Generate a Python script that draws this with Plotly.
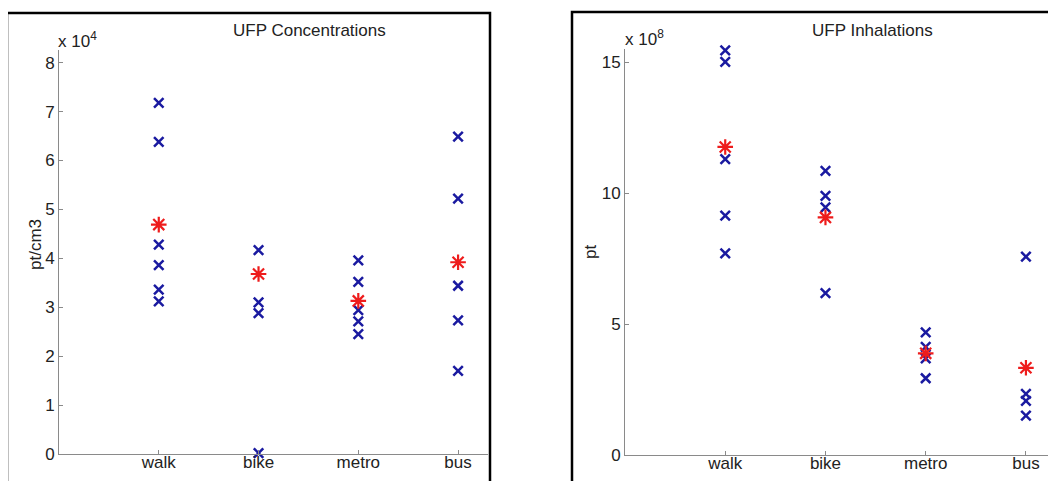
import plotly.graph_objects as go

# page has an 8 px body margin: the figure starts at (8, 8) in the screenshot
OFF = 8
W, H = 1056 - OFF, 481 - OFF

modes = ["walk", "bike", "metro", "bus"]

# Left panel: UFP concentrations (x 10^4 pt/cm3)
conc_walk = [7.18, 6.38, 4.28, 3.86, 3.36, 3.12]
conc_bike = [4.17, 3.10, 2.88, 0.02]
conc_metro = [3.96, 3.52, 2.94, 2.71, 2.45]
conc_bus = [6.49, 5.22, 3.44, 2.73, 1.70]
conc_mean = [4.69, 3.68, 3.13, 3.92]

# Right panel: UFP inhalations (x 10^8 pt)
inh_walk = [15.45, 15.01, 11.30, 9.14, 7.70]
inh_bike = [10.85, 9.89, 9.45, 6.18]
inh_metro = [4.68, 4.13, 3.69, 2.93]
inh_bus = [7.57, 2.33, 2.07, 1.50]
inh_mean = [11.76, 9.07, 3.88, 3.33]

conc_ticks = [0, 1, 2, 3, 4, 5, 6, 7, 8]
inh_ticks = [0, 5, 10, 15]

BLUE = "#1a1aa0"
RED = "#ee1c1c"
GRAY = "#8a8a8a"
FONT = "Liberation Sans, Arial, sans-serif"
FS = 17
TXT_COLOR = "#222222"

fig = go.Figure()


def add_panel(groups, means, xa, ya):
    for i, vals in enumerate(groups):
        fig.add_trace(go.Scatter(
            x=[i + 1] * len(vals), y=vals, mode="markers",
            marker=dict(symbol="x-thin-open", size=9.5, color=BLUE,
                        line=dict(color=BLUE, width=2.5)),
            xaxis=xa, yaxis=ya, showlegend=False, cliponaxis=False))
    fig.add_trace(go.Scatter(
        x=list(range(1, len(means) + 1)), y=means, mode="markers",
        marker=dict(symbol="asterisk-open", size=13, color=RED,
                    line=dict(color=RED, width=2.2)),
        xaxis=xa, yaxis=ya, showlegend=False, cliponaxis=False))


add_panel([conc_walk, conc_bike, conc_metro, conc_bus], conc_mean, "x", "y")
add_panel([inh_walk, inh_bike, inh_metro, inh_bus], inh_mean, "x2", "y2")


def px(x):
    return (x - OFF) / W


def py(y):
    return 1 - (y - OFF) / H


axis_common = dict(showgrid=False, zeroline=False, showline=True,
                   linecolor=GRAY, linewidth=1, ticks="inside", ticklen=4,
                   tickcolor=GRAY, tickwidth=1, automargin=False,
                   tickfont=dict(family=FONT, size=FS, color=TXT_COLOR))

fig.update_layout(
    width=W, height=H,
    margin=dict(l=0, r=0, t=0, b=0),
    paper_bgcolor="white", plot_bgcolor="white",
    xaxis=dict(domain=[px(59), px(488)], range=[0, 4.3], ticklabelstandoff=-7,
               tickvals=[1, 2, 3, 4], ticktext=modes, anchor="y", **axis_common),
    yaxis=dict(domain=[py(454), py(50)], range=[0, 8.26],
               tickvals=conc_ticks, anchor="x", **axis_common),
    xaxis2=dict(domain=[px(625), 1.0], range=[0, 4.3], ticklabelstandoff=-7,
                tickvals=[1, 2, 3, 4], ticktext=modes, anchor="y2", **axis_common),
    yaxis2=dict(domain=[py(455), py(49)], range=[0, 15.5],
                tickvals=inh_ticks, anchor="x2", **axis_common),
)

# panel borders (cropped at the bottom / right like the reference)
fig.add_shape(type="rect", xref="paper", yref="paper",
              x0=px(7), x1=px(490), y0=py(500), y1=py(13),
              line=dict(color="black", width=2.5), fillcolor="rgba(0,0,0,0)")
fig.add_shape(type="rect", xref="paper", yref="paper",
              x0=px(572), x1=px(1080), y0=py(500), y1=py(12),
              line=dict(color="black", width=2.5), fillcolor="rgba(0,0,0,0)")


def label(text, x, y, angle=0, xanchor="center", size=FS):
    fig.add_annotation(text=text, xref="paper", yref="paper",
                       x=px(x), y=py(y), xanchor=xanchor, yanchor="middle",
                       textangle=angle, showarrow=False,
                       font=dict(family=FONT, size=size, color=TXT_COLOR))


label("UFP Concentrations", 309, 31)
label("UFP Inhalations", 872, 31)
label("x 10<sup>4</sup>", 56, 40, xanchor="left")
label("x 10<sup>8</sup>", 623, 38, xanchor="left")
label("pt/cm3", 35, 245, angle=-90)
label("pt", 591, 252, angle=-90)

fig.write_html("out.html")
